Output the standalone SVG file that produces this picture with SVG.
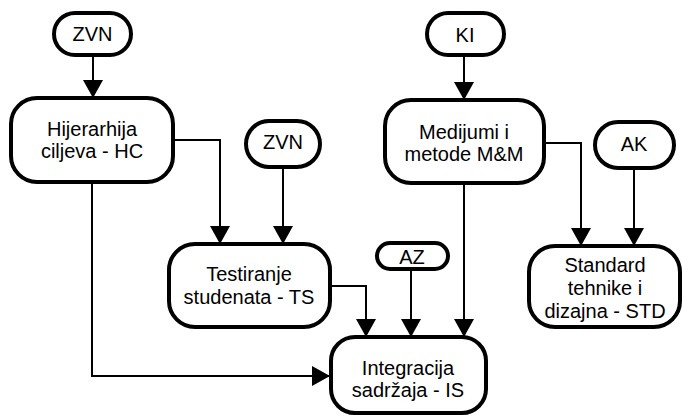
<svg xmlns="http://www.w3.org/2000/svg" width="682" height="418" viewBox="0 0 682 418">
<style>
.box{fill:#fff;stroke:#000;stroke-width:4}
.t{font-family:"Liberation Sans",Arial,sans-serif;font-size:20px;text-anchor:middle;fill:#000}
.c{fill:none;stroke:#000;stroke-width:2}
</style>
<defs>
<marker id="ah" markerUnits="userSpaceOnUse" markerWidth="18" markerHeight="20" refX="18" refY="10" orient="auto">
<path d="M0,0 L18,10 L0,20 Z" fill="#000"/>
</marker>
</defs>
<rect width="682" height="418" fill="#fff"/>
<g id="connectors">
<path class="c" d="M93 55 V98" marker-end="url(#ah)"/>
<path class="c" d="M173 140 H220 V244" marker-end="url(#ah)"/>
<path class="c" d="M283 167 V244" marker-end="url(#ah)"/>
<path class="c" d="M92 182 V376 H330" marker-end="url(#ah)"/>
<path class="c" d="M330 286 H366 V337" marker-end="url(#ah)"/>
<path class="c" d="M411 269 V337" marker-end="url(#ah)"/>
<path class="c" d="M464 183 V337" marker-end="url(#ah)"/>
<path class="c" d="M464 55 V100" marker-end="url(#ah)"/>
<path class="c" d="M544 143 H581 V246" marker-end="url(#ah)"/>
<path class="c" d="M634 168 V246" marker-end="url(#ah)"/>
</g>
<g id="zvn1"><rect class="box" x="54" y="13" width="77" height="42" rx="21"/><text class="t" x="92.5" y="41">ZVN</text></g>
<g id="hc"><rect class="box" x="11" y="98" width="162" height="84" rx="26"/><text class="t" x="92" y="136">Hijerarhija</text><text class="t" x="92" y="158">ciljeva - HC</text></g>
<g id="zvn2"><rect class="box" x="246" y="121" width="74" height="46" rx="23"/><text class="t" x="283" y="149">ZVN</text></g>
<g id="ts"><rect class="box" x="169" y="244" width="161" height="83" rx="26"/><text class="t" x="249" y="281">Testiranje</text><text class="t" x="249" y="304">studenata - TS</text></g>
<g id="az"><rect class="box" x="377" y="243" width="71" height="26" rx="13"/><text class="t" x="412" y="264">AZ</text></g>
<g id="is"><rect class="box" x="331" y="337" width="155" height="76" rx="24"/><text class="t" x="408" y="375">Integracija</text><text class="t" x="408" y="397">sadržaja - IS</text></g>
<g id="ki"><rect class="box" x="427" y="13" width="77" height="42" rx="21"/><text class="t" x="465" y="42">KI</text></g>
<g id="mm"><rect class="box" x="385" y="100" width="159" height="83" rx="26"/><text class="t" x="464" y="139">Medijumi i</text><text class="t" x="464" y="161">metode M&amp;M</text></g>
<g id="ak"><rect class="box" x="595" y="122" width="79" height="46" rx="23"/><text class="t" x="634" y="151">AK</text></g>
<g id="std"><rect class="box" x="529" y="246" width="151" height="81" rx="26"/><text class="t" x="605" y="272">Standard</text><text class="t" x="605" y="295">tehnike i</text><text class="t" x="605" y="318">dizajna - STD</text></g>
</svg>
